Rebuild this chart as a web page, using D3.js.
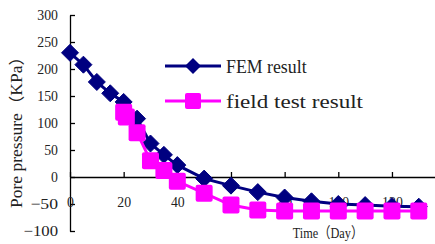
<!DOCTYPE html>
<html>
<head>
<meta charset="utf-8">
<script src="https://cdn.jsdelivr.net/npm/d3@7"></script>
<style>
  body { margin: 0; background: #fff; }
  svg { display: block; }
</style>
</head>
<body>
<div id="chart"></div>
<script>
// values
const femDays = [0, 5, 10, 15, 20, 25, 30, 35, 40, 50, 60, 70, 80, 90, 100, 110, 120, 130];
const femPressure = [230, 208, 176, 155, 139, 108, 62, 41, 22, -3, -16, -28, -38, -45, -50, -52, -54, -55];
const fieldDays = [20, 21, 25, 30, 35, 40, 50, 60, 70, 80, 90, 100, 110, 120, 130];
const fieldPressure = [120, 111, 82, 30, 12, -8, -30, -52, -61, -63, -63, -63, -63, -63, -63];
const xTicks = [0, 20, 40, 60, 80, 100, 120];
const yTicks = [-100, -50, 0, 50, 100, 150, 200, 250, 300];
const seriesNames = ['FEM result', 'field test result'];

const width = 435, height = 244;
const font = '"Liberation Serif", "Noto Sans CJK SC", serif';
const navy = '#000080', magenta = '#ff00ff';

const svg = d3.select('#chart').append('svg')
  .attr('width', width)
  .attr('height', height);

// x runs to 140, past the right edge of the picture
const x = d3.scaleLinear().domain([0, 140]).range([70, 70 + 140 * 2.683]);
const y = d3.scaleLinear().domain([-100, 300]).range([231, 15]);

// squeeze text to the narrow look of the original font
function fit(sel, perChar) {
  sel.each(function () {
    const t = d3.select(this);
    const n = Array.from(t.text()).reduce((s, c) => s + (c.charCodeAt(0) > 255 ? 2 : 1), 0);
    t.attr('textLength', n * perChar).attr('lengthAdjust', 'spacingAndGlyphs');
  });
}

const yAxis = svg.append('g')
  .attr('transform', `translate(${x(0)},0)`)
  .call(d3.axisLeft(y).tickValues(yTicks).tickSizeInner(-5).tickSizeOuter(0).tickPadding(12));
yAxis.selectAll('text').attr('font-family', font).attr('font-size', 15).attr('fill', '#222').call(fit, 6.9);

const xAxis = svg.append('g')
  .attr('transform', `translate(0,${y(0)})`)
  .call(d3.axisBottom(x).tickValues(xTicks).tickSizeInner(-5).tickSizeOuter(0).tickPadding(19));
xAxis.selectAll('text').attr('font-family', font).attr('font-size', 15).attr('fill', '#222').call(fit, 6.9);

svg.selectAll('.domain, .tick line').attr('stroke', '#000').attr('stroke-width', 1.3);

// axis titles
svg.append('text')
  .attr('transform', `translate(22,128) rotate(-90)`)
  .attr('text-anchor', 'middle')
  .attr('font-family', font).attr('font-size', 16).attr('fill', '#222')
  .text('Pore pressure（KPa）')
  .call(fit, 8);

svg.append('text')
  .attr('x', 328).attr('y', 238)
  .attr('text-anchor', 'middle')
  .attr('font-family', font).attr('font-size', 15).attr('fill', '#222')
  .text('Time（Day）')
  .call(fit, 6.4);

const line = d3.line().x(d => x(d[0])).y(d => y(d[1]));
const femData = femDays.map((d, i) => [d, femPressure[i]]);
const fieldData = fieldDays.map((d, i) => [d, fieldPressure[i]]);

const diamond = r => `M0,${-r}L${r},0L0,${r}L${-r},0Z`;

// FEM series
svg.append('path').datum(femData)
  .attr('d', line).attr('fill', 'none').attr('stroke', navy).attr('stroke-width', 3);
svg.selectAll('.fem').data(femData).enter().append('path')
  .attr('class', 'fem')
  .attr('transform', d => `translate(${x(d[0])},${y(d[1])})`)
  .attr('d', diamond(8.5))
  .attr('fill', navy).attr('stroke', navy).attr('stroke-linejoin', 'round');

// field test series
svg.append('path').datum(fieldData)
  .attr('d', line).attr('fill', 'none').attr('stroke', magenta).attr('stroke-width', 3);
svg.selectAll('.field').data(fieldData).enter().append('rect')
  .attr('class', 'field')
  .attr('x', d => x(d[0]) - 8.5).attr('y', d => y(d[1]) - 8.5)
  .attr('width', 17).attr('height', 17).attr('rx', 2)
  .attr('fill', magenta);

// legend
const legend = svg.append('g');
const legendY = [66, 101];
const legendColors = [navy, magenta];
seriesNames.forEach((name, i) => {
  const g = legend.append('g').attr('transform', `translate(0,${legendY[i]})`);
  g.append('line').attr('x1', 165).attr('x2', 221).attr('stroke', legendColors[i]).attr('stroke-width', 3);
  if (i === 0) {
    g.append('path').attr('transform', 'translate(193,0)').attr('d', diamond(8)).attr('fill', navy);
  } else {
    g.append('rect').attr('x', 185).attr('y', -8).attr('width', 16).attr('height', 16).attr('rx', 2).attr('fill', magenta);
  }
  g.append('text')
    .attr('x', 226).attr('y', 7)
    .attr('font-family', font).attr('font-size', 18).attr('fill', '#222')
    .text(name)
    .call(fit, 8.06);
});
</script>
</body>
</html>
